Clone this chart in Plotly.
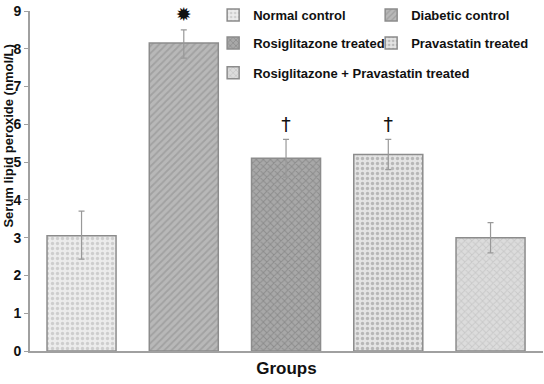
import plotly.graph_objects as go

groups = ["Normal control", "Diabetic control", "Rosiglitazone treated",
          "Pravastatin treated", "Rosiglitazone + Pravastatin treated"]
means = [3.05, 8.15, 5.1, 5.2, 3.0]
errs_plus = [0.65, 0.35, 0.5, 0.4, 0.4]
errs_minus = [0.62, 0.4, 0.5, 0.4, 0.4]
marks = ["", "✹", "†", "†", ""]
mark_y = [0, 8.85, 5.95, 5.95, 0]
y_ticks = [0, 1, 2, 3, 4, 5, 6, 7, 8, 9]

fills = ["#ececec", "#b8b8b8", "#a8a8a8", "#e4e4e4", "#dcdcdc"]
pat_colors = ["#b0b0b0", "#8a8a8a", "#707070", "#8a8a8a", "#b5b5b5"]
shapes = [".", "/", "x", ".", "x"]

FONT = "Liberation Sans, Arial, sans-serif"

leg_x = [0.357, 0.665, 0.357, 0.665, 0.357]
leg_y = [0.988, 0.988, 0.906, 0.906, 0.818]

fig = go.Figure()
layout_legends = {}
for i, g in enumerate(groups):
    lname = "legend" if i == 0 else f"legend{i+1}"
    fig.add_trace(go.Bar(
        x=[i], y=[means[i]], name=g, width=0.675, legend=lname,
        marker=dict(color=fills[i], line=dict(color="#8c8c8c", width=1.5),
                    pattern=dict(shape=shapes[i], fgcolor=pat_colors[i],
                                 bgcolor=fills[i], size=5, solidity=0.35)),
        error_y=dict(type="data", symmetric=False, array=[errs_plus[i]],
                     arrayminus=[errs_minus[i]], color="#999999",
                     thickness=1.2, width=3),
    ))
    layout_legends[lname] = dict(
        x=leg_x[i], y=leg_y[i], xanchor="left", yanchor="middle",
        font=dict(size=13, family=FONT, weight="bold", color="#111111"),
        itemwidth=30, bgcolor="rgba(0,0,0,0)", borderwidth=0)

idx = [i for i, m in enumerate(marks) if m]
fig.add_trace(go.Scatter(
    x=idx, y=[mark_y[i] for i in idx], mode="text", cliponaxis=False,
    text=[marks[i] for i in idx], showlegend=False,
    textfont=dict(size=19, color="#111111", family="DejaVu Sans"),
    hoverinfo="skip"))

fig.add_annotation(
    text="<b>Serum lipid peroxide (nmol/L)</b>", textangle=-90,
    xref="paper", yref="paper", x=-0.042, y=0.632, xanchor="center",
    yanchor="middle", showarrow=False,
    font=dict(size=13, family=FONT, color="#111111"))

fig.update_layout(
    width=544, height=384,
    margin=dict(l=30, r=1, t=11, b=33, autoexpand=False),
    paper_bgcolor="white", plot_bgcolor="white",
    barmode="overlay",
    font=dict(family=FONT, color="#111111"),
    xaxis=dict(range=[-0.504, 4.513], showticklabels=False, ticks="",
               showline=True, linecolor="#a0a0a0", linewidth=2, automargin=False,
               title=dict(text="<b>Groups</b>", standoff=10,
                          font=dict(size=17, family=FONT, color="#111111")),
               showgrid=False, zeroline=False),
    yaxis=dict(range=[0, 9], tickvals=y_ticks, ticks="outside", ticklen=4,
               tickcolor="#a0a0a0", showline=True, linecolor="#a0a0a0",
               linewidth=2, showgrid=False, zeroline=False, automargin=False,
               tickfont=dict(size=14, family=FONT, weight="bold", color="#111111")),
    **layout_legends,
)

post = "document.body.style.margin='0';"
fig.write_html("out.html", post_script=post, config={"displayModeBar": False})
